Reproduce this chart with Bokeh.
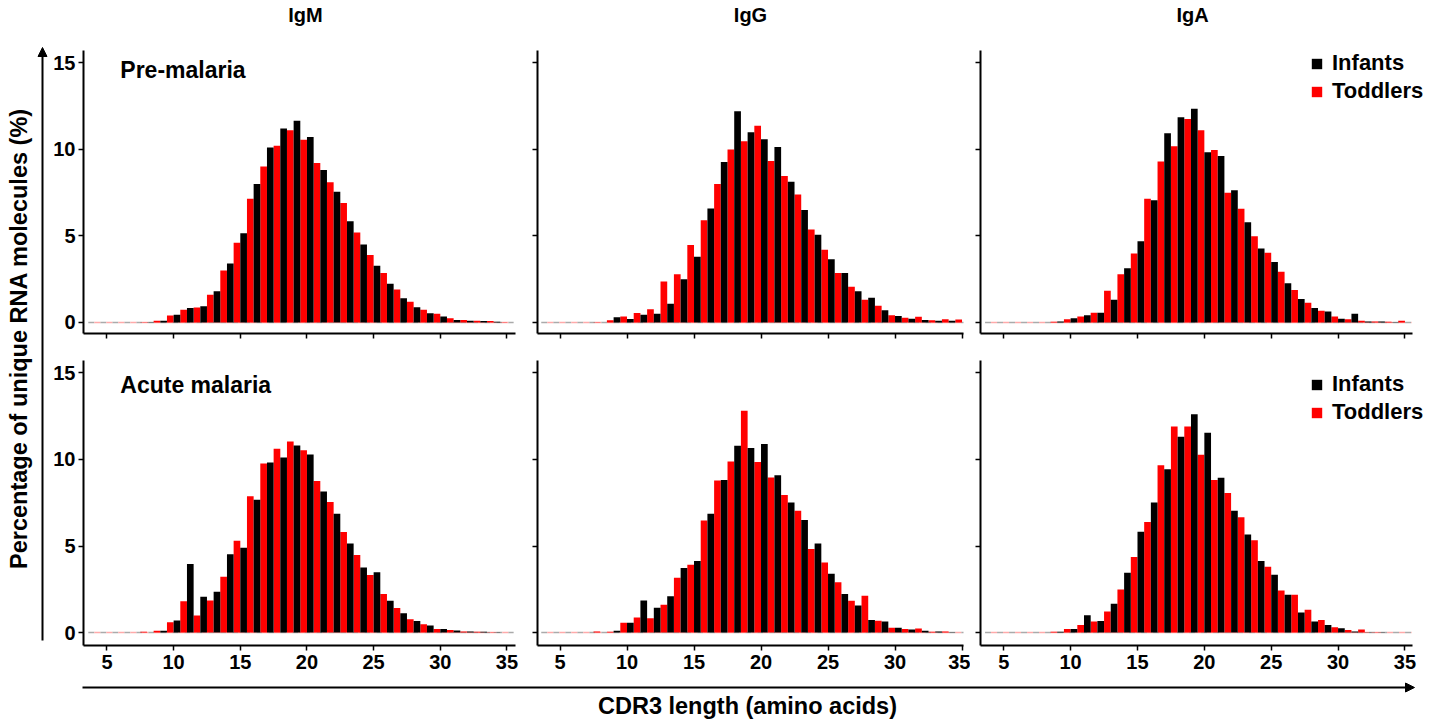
import math
from bokeh.plotting import figure
from bokeh.layouts import row, column
from bokeh.models import (ColumnDataSource, Range1d, FixedTicker, Label, Legend, LegendItem,
                          Arrow, NormalHead)
from bokeh.embed import file_html
from bokeh.resources import INLINE

FONT = "Liberation Sans"

cdr3 = list(range(5, 36))

# ---- values (percent), index = CDR3 length 5..35 ----
igm_pre_inf = [0, 0, 0, 0.02, 0.1, 0.45, 0.83, 0.94, 1.8, 3.4, 5.15, 8.0, 10.1, 11.2, 11.65, 10.7,
               8.8, 7.55, 5.85, 4.5, 3.27, 2.23, 1.4, 0.88, 0.54, 0.35, 0.15, 0.1, 0.08, 0.05, 0]
igm_pre_tod = [0, 0, 0, 0.02, 0.1, 0.4, 0.73, 0.87, 1.6, 3.0, 4.6, 7.15, 9.0, 10.2, 11.1, 10.55,
               9.2, 8.1, 6.9, 5.2, 3.9, 2.85, 1.9, 1.2, 0.73, 0.5, 0.25, 0.15, 0.1, 0.08, 0.02]

igg_pre_inf = [0, 0, 0, 0, 0.3, 0.2, 0.45, 0.5, 1.08, 2.5, 3.8, 6.58, 9.27, 12.2, 10.98, 10.58,
               10.13, 8.13, 6.49, 5.06, 3.65, 2.86, 1.81, 1.43, 0.71, 0.37, 0.21, 0.15, 0.1, 0.1, 0]
igg_pre_tod = [0, 0, 0, 0.02, 0.13, 0.35, 0.55, 0.77, 2.37, 2.78, 4.48, 5.9, 8.0, 9.98, 10.46, 11.35,
               9.32, 8.45, 7.39, 5.37, 4.2, 2.86, 2.07, 1.31, 0.97, 0.42, 0.27, 0.33, 0.13, 0.19, 0.18]

iga_pre_inf = [0, 0, 0, 0, 0.06, 0.25, 0.42, 0.56, 1.31, 3.13, 4.69, 7.05, 10.93, 11.85, 12.34, 9.83,
               9.61, 7.63, 5.79, 4.27, 3.49, 2.26, 1.35, 0.83, 0.64, 0.21, 0.5, 0.06, 0.06, 0.02, 0]
iga_pre_tod = [0, 0, 0, 0, 0.04, 0.19, 0.35, 0.56, 1.83, 2.78, 3.98, 7.14, 9.29, 10.17, 11.74, 11.1,
               9.96, 7.49, 6.56, 4.98, 4.03, 2.93, 1.87, 1.14, 0.68, 0.35, 0.19, 0.1, 0.06, 0.04, 0.1]

igm_ac_inf = [0, 0, 0, 0, 0.1, 0.7, 3.96, 2.07, 2.36, 4.52, 4.9, 7.68, 9.83, 10.12, 10.81, 10.29,
              8.15, 6.87, 5.14, 3.76, 3.49, 1.83, 1.12, 0.66, 0.41, 0.21, 0.12, 0.06, 0.05, 0.02, 0]
igm_ac_tod = [0, 0, 0, 0.04, 0.1, 0.6, 1.81, 0.98, 1.85, 3.22, 5.31, 7.88, 9.77, 10.62, 11.04, 10.54,
              8.76, 7.55, 5.81, 4.48, 3.32, 2.22, 1.41, 0.77, 0.48, 0.21, 0.14, 0.06, 0.05, 0.02, 0]

igg_ac_inf = [0, 0, 0, 0, 0.1, 0.56, 1.85, 1.43, 2.1, 3.73, 4.13, 6.87, 8.82, 10.79, 10.66, 10.89,
              9.09, 7.51, 6.5, 5.14, 3.4, 2.22, 1.56, 0.73, 0.64, 0.27, 0.17, 0.1, 0.06, 0.02, 0]
igg_ac_tod = [0, 0, 0, 0.06, 0.04, 0.56, 0.87, 0.83, 1.6, 3.17, 3.92, 6.47, 8.78, 9.88, 12.82, 9.85,
              8.96, 7.95, 7.03, 4.83, 4.05, 2.9, 1.83, 2.12, 0.68, 0.27, 0.21, 0.23, 0.04, 0.06, 0]

iga_ac_inf = [0, 0, 0, 0, 0.04, 0.21, 1.0, 0.66, 1.66, 3.46, 5.83, 7.51, 9.44, 11.31, 12.61, 11.54,
              8.94, 7.03, 5.66, 4.13, 3.34, 2.18, 1.16, 0.64, 0.44, 0.25, 0.06, 0.02, 0.02, 0, 0]
iga_ac_tod = [0, 0, 0, 0, 0.04, 0.21, 0.44, 0.64, 1.22, 2.49, 4.36, 6.39, 9.67, 11.91, 11.91, 10.27,
              8.82, 8.07, 6.66, 5.33, 3.8, 2.43, 2.18, 1.31, 0.73, 0.31, 0.14, 0.17, 0.02, 0, 0]

isotypes = ["IgM", "IgG", "IgA"]
conditions = ["Pre-malaria", "Acute malaria"]
series = [
    [(igm_pre_inf, igm_pre_tod), (igg_pre_inf, igg_pre_tod), (iga_pre_inf, iga_pre_tod)],
    [(igm_ac_inf, igm_ac_tod), (igg_ac_inf, igg_ac_tod), (iga_ac_inf, iga_ac_tod)],
]
group_names = ["Infants", "Toddlers"]
x_ticks = [5, 10, 15, 20, 25, 30, 35]
y_ticks = [0, 5, 10, 15]

# layout geometry (pixels)
col_w = [476, 444, 481]
col_bl = [33, 11, 10]
col_br = [11, 7, 11]
col_xr = [(3.24, 35.64), (3.32, 35.11), (3.26, 37.66)]
col_axis_end = [35.64, 35.11, 35.57]
row_h = [310, 333]
row_bt = [15, 15]
row_bb = [12, 33]
row_yr = [(-0.635, 15.7), (-0.75, 15.72)]
legend_vy = [229, 220]


def style_axis(ax, show_labels):
    ax.axis_line_width = 2
    ax.axis_line_color = "black"
    ax.major_tick_line_width = 1.5
    ax.major_tick_out = 5
    ax.major_tick_in = 0
    ax.minor_tick_out = 0
    ax.minor_tick_in = 0
    ax.major_label_text_font = FONT
    ax.major_label_text_font_style = "bold"
    ax.major_label_text_font_size = "20px"
    ax.major_label_text_color = "black"
    if not show_labels:
        ax.major_label_overrides = {t: "" for t in (x_ticks + y_ticks)}


def make_panel(r, c):
    inf, tod = series[r][c]
    p = figure(width=col_w[c], height=row_h[r], output_backend="svg", toolbar_location=None,
               x_range=Range1d(*col_xr[c]), y_range=Range1d(*row_yr[r]),
               min_border_left=col_bl[c], min_border_right=col_br[c],
               min_border_top=row_bt[r], min_border_bottom=row_bb[r])
    p.outline_line_color = None
    p.grid.visible = False
    p.background_fill_color = "white"
    p.border_fill_color = "white"

    src = ColumnDataSource(dict(x=cdr3, inf=inf, tod=tod,
                                xi=[v + 0.25 for v in cdr3], xt=[v - 0.25 for v in cdr3]))
    # faint dashed baseline (zero-height bars)
    p.line(x=[3.6, 35.5], y=[0, 0], line_color="#aaaaaa", line_width=1.5, line_dash="6 6")
    p.line(x=[3.6, 35.5], y=[0, 0], line_color="#ffaaaa", line_width=1.5, line_dash="6 6",
           line_dash_offset=6)
    rt = p.vbar(x="xt", top="tod", width=0.5, source=src, fill_color="#ff0000", line_color=None)
    ri = p.vbar(x="xi", top="inf", width=0.5, source=src, fill_color="#000000", line_color=None)

    style_axis(p.xaxis[0], r == 1)
    style_axis(p.yaxis[0], c == 0)
    p.xaxis.ticker = FixedTicker(ticks=x_ticks)
    p.yaxis.ticker = FixedTicker(ticks=y_ticks)
    p.xaxis.bounds = (col_xr[c][0], col_axis_end[c])
    p.yaxis.major_label_standoff = 3 if c == 0 else 0
    p.xaxis.major_label_standoff = 4 if r == 1 else 0

    if c == 0:
        p.add_layout(Label(x=6.0, y=(14.6 if r == 0 else 14.3), text=conditions[r],
                           text_font=FONT, text_font_style="bold", text_font_size="23px",
                           text_color="black", text_baseline="middle", text_align="left"))
    if c == 2:
        leg = Legend(items=[LegendItem(label=group_names[0], renderers=[ri]),
                            LegendItem(label=group_names[1], renderers=[rt])],
                     location=(330, legend_vy[r]), orientation="vertical")
        leg.label_text_font = FONT
        leg.label_text_font_style = "bold"
        leg.label_text_font_size = "22px"
        leg.label_text_color = "black"
        leg.glyph_width = 13
        leg.glyph_height = 13
        leg.label_standoff = 9
        leg.spacing = 2
        leg.padding = 0
        leg.margin = 0
        leg.border_line_color = None
        leg.background_fill_alpha = 0
        p.add_layout(leg)
    return p


def strip(width, height, xr, yr):
    f = figure(width=width, height=height, output_backend="svg", toolbar_location=None,
               title=None, x_range=Range1d(*xr), y_range=Range1d(*yr),
               min_border_left=0, min_border_right=0, min_border_top=0, min_border_bottom=0)
    f.axis.visible = False
    f.grid.visible = False
    f.outline_line_color = None
    return f


# top strip: column titles
top = strip(1401, 35, (50, 1451), (35, 0))
for name, cx in zip(isotypes, [305, 750, 1192]):
    top.add_layout(Label(x=cx, y=14, text=name, text_font=FONT, text_font_style="bold",
                         text_font_size="20px", text_color="black",
                         text_align="center", text_baseline="middle"))

rows = [row(*[make_panel(r, c) for c in range(3)]) for r in range(2)]

# left strip: big y label with arrow
left = strip(50, 724, (0, 50), (724, 0))
left.add_layout(Arrow(end=NormalHead(size=9, fill_color="black", line_color="black"),
                      x_start=42, y_start=640, x_end=42, y_end=47, line_width=2))
left.add_layout(Label(x=18, y=338, text="Percentage of unique RNA molecules (%)", angle=math.pi / 2,
                      text_font=FONT, text_font_style="bold", text_font_size="23.5px",
                      text_color="black", text_align="center", text_baseline="middle"))

# bottom strip: x label with arrow
bottom = strip(1401, 46, (50, 1451), (724, 678))
bottom.add_layout(Arrow(end=NormalHead(size=9, fill_color="black", line_color="black"),
                        x_start=82, y_start=687, x_end=1414, y_end=687, line_width=2))
bottom.add_layout(Label(x=747, y=705, text="CDR3 length (amino acids)",
                        text_font=FONT, text_font_style="bold", text_font_size="23.5px",
                        text_color="black", text_align="center", text_baseline="middle"))

layout = row(left, column(top, rows[0], rows[1], bottom))

with open("out.html", "w") as f:
    f.write(file_html(layout, INLINE))
